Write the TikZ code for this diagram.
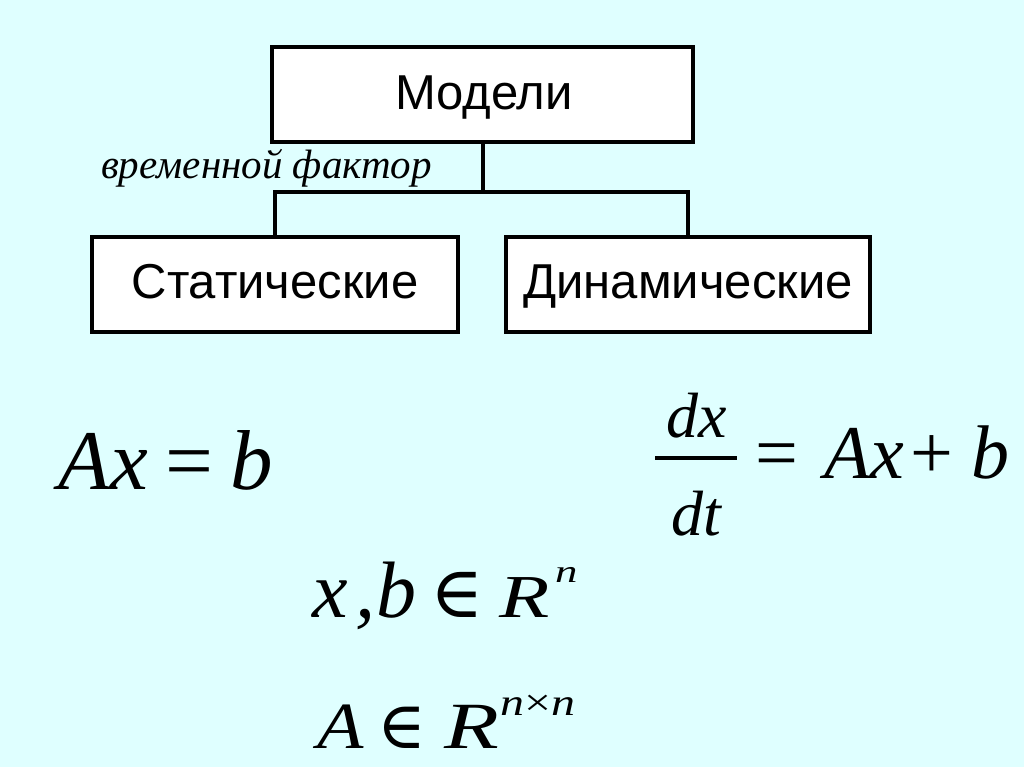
\documentclass[tikz,border=0pt]{standalone}
\usepackage{fontspec}
\setmainfont{Liberation Sans}
\newfontfamily\tnr{Liberation Serif}
\newfontfamily\djv{DejaVu Serif}
\definecolor{bgcyan}{RGB}{223,255,255}
\tikzset{
  box/.style={draw=black, line width=4pt, fill=white, inner sep=0pt},
  boxtext/.style={font=\fontsize{49}{55}\selectfont, inner sep=0pt, anchor=base},
  conn/.style={draw=black, line width=4pt},
  frm/.style={inner sep=0pt, anchor=base west},
  sym/.style={inner sep=0pt, anchor=base},
}
\newcommand{\ital}[1]{{\itshape #1}}
\newcommand{\sz}[1]{\fontsize{#1}{#1}\selectfont}
\begin{document}
\begin{tikzpicture}[x=1pt,y=-1pt]
\fill[bgcyan] (0,0) rectangle (1024,767);
\useasboundingbox (0,0) rectangle (1024,767);

\node[box, minimum width=421pt, minimum height=95pt] (mod) at (482.5,94.5) {};
\node[boxtext] (modt) at (484,110) {Модели};
\node[box, minimum width=366pt, minimum height=95pt] (stat) at (275,284.5) {};
\node[boxtext] (statt) at (275,298) {Статические};
\node[box, minimum width=364pt, minimum height=95pt] (dyn) at (688,284.5) {};
\node[boxtext] (dynt) at (688,298) {Динамические};

\coordinate (j) at (482.5,192);
\draw[conn] (mod.south) -- (j);
\draw[conn, line join=miter] (stat.north) |- (j) -| (dyn.north);

\node[frm, font=\tnr\itshape\sz{41}] (tf) at (101,179) {временной фактор};

% Ax = b
\node[frm, font=\tnr\sz{85}] (f1) at (58,489)
  {\ital{Ax}\hspace{17.8pt}=\hspace{16.6pt}\ital{b}};

% dx/dt = Ax + b
\node[frm, font=\tnr\itshape\sz{64}] (dx) at (666,437) {dx};
\node[frm, font=\tnr\itshape\sz{64}] (dt) at (671.5,535) {dt};
\coordinate (fl) at (655,458);
\coordinate (fr) at (737,458);
\draw[line width=3.5pt] (fl) -- (fr);
\node[frm, font=\tnr\sz{76}] (f2) at (755.7,478)
  {=\hspace{25.3pt}\ital{Ax}\hspace{6.7pt}+\hspace{17.7pt}\ital{b}};

% x, b in R^n
\node[frm, font=\tnr\itshape\sz{80}] (x3) at (312,617) {x};
\node[frm, font=\tnr\itshape\sz{80}] (c3) at (355.3,617) {,};
\node[frm, font=\tnr\itshape\sz{80}] (b3) at (376,617) {b};
\node[sym, font=\djv\sz{72}] (e3) at (457,617) {∈};
\node[frm, font=\tnr\itshape\sz{61}] (r3) at (499,617) {\scalebox{1.35}[1]{R}};
\node[frm, font=\tnr\itshape\sz{32}] (n3) at (555,582) {\scalebox{1.4}[1]{n}};

% A in R^{n x n}
\node[frm, font=\tnr\itshape\sz{66}] (a4) at (316.9,748) {\scalebox{1.15}[1]{A}};
\node[sym, font=\djv\sz{66}] (e4) at (401.5,748) {∈};
\node[frm, font=\tnr\itshape\sz{66}] (r4) at (444.3,748) {\scalebox{1.36}[1]{R}};
\node[frm, font=\tnr\sz{38}] (n4) at (500,715) {\scalebox{1.26}[1]{\ital{n}×\ital{n}}};
\end{tikzpicture}
\end{document}
